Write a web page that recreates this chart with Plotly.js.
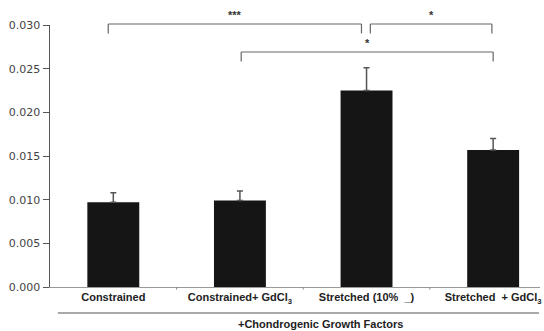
<!DOCTYPE html>
<html>
<head>
<meta charset="utf-8">
<script src="https://cdn.plot.ly/plotly-3.0.1.min.js"></script>
<style>html,body{margin:0;padding:0;background:#fff;}#chart{width:544px;height:331px;}</style>
</head>
<body>
<div id="chart"></div>
<script>
// Data
const categories = ["Constrained", "Constrained+ GdCl<sub>3</sub>", "Stretched (10%  _)", "Stretched  + GdCl<sub>3</sub>"];
const values = [0.0097, 0.0099, 0.0225, 0.0157];
const errorsUp = [0.0011, 0.0011, 0.0026, 0.0013];
const yTickVals = [0, 0.005, 0.010, 0.015, 0.020, 0.025, 0.030];
const yTickText = ["0.000", "0.005", "0.010", "0.015", "0.020", "0.025", "0.030"];
// Significance brackets: [start category index, end category index, label]
const brackets = [
  {from: -0.04, to: 1.96, level: 0, label: "***"},
  {from: 2.03, to: 2.99, level: 0, label: "*"},
  {from: 1.01, to: 3.0, level: 1, label: "*"}
];
const groupLabel = "+Chondrogenic Growth Factors";

const idx = categories.map((_, i) => i);

const trace = {
  type: "bar",
  x: idx,
  y: values,
  width: 0.41,
  marker: {color: "#151515", line: {width: 0}},
  error_y: {
    type: "data", symmetric: false, array: errorsUp, arrayminus: errorsUp.map(() => 0),
    color: "#555", thickness: 1.5, width: 3
  },
  hoverinfo: "skip"
};

const levelY = [1.0038, 0.897];
const levelDrop = 0.036;
const shapes = [];
const annotations = [];
brackets.forEach(b => {
  const yTop = levelY[b.level];
  const line = {color: "#666", width: 1.2};
  shapes.push({type: "line", xref: "x", yref: "paper", x0: b.from, x1: b.to, y0: yTop, y1: yTop, line});
  shapes.push({type: "line", xref: "x", yref: "paper", x0: b.from, x1: b.from, y0: yTop, y1: yTop - levelDrop, line});
  shapes.push({type: "line", xref: "x", yref: "paper", x0: b.to, x1: b.to, y0: yTop, y1: yTop - levelDrop, line});
  annotations.push({xref: "x", yref: "paper", x: (b.from + b.to) / 2, y: yTop + 0.004, yanchor: "bottom",
    text: "<b>" + b.label + "</b>", showarrow: false, font: {family: "Liberation Sans, Arial", size: 11, color: "#333"}});
});
// small separator ticks between categories
[0.5, 1.5, 2.5].forEach(v => {
  shapes.push({type: "line", xref: "x", yref: "paper", x0: v, x1: v, y0: 0, y1: -0.01, line: {color: "#888", width: 1}});
});
// group line and label
shapes.push({type: "line", xref: "paper", yref: "paper", x0: 0.016, x1: 0.998, y0: -0.0992, y1: -0.0992, line: {color: "#555", width: 1.2}});
annotations.push({xref: "paper", yref: "paper", x: 0.553, y: -0.143, yanchor: "middle", xanchor: "center",
  text: "<b>" + groupLabel + "</b>", showarrow: false, font: {family: "Liberation Sans, Arial", size: 11, color: "#222"}});

const layout = {
  width: 544, height: 331,
  margin: {l: 50, r: 4, t: 25, b: 44, pad: 0},
  paper_bgcolor: "#fff", plot_bgcolor: "#fff",
  showlegend: false,
  xaxis: {
    range: [-0.5, 3.37], tickvals: idx, ticktext: categories.map(c => "<b>" + c + "</b>"),
    showline: true, linecolor: "#999", linewidth: 1, ticks: "", showgrid: false, zeroline: false,
    tickfont: {family: "Liberation Sans, Arial", size: 11, color: "#222"}, fixedrange: true
  },
  yaxis: {
    range: [0, 0.030], tickvals: yTickVals, ticktext: yTickText,
    showline: true, linecolor: "#555", linewidth: 1.5, ticks: "outside", ticklen: 6, tickcolor: "#555", tickwidth: 1,
    showgrid: false, zeroline: false,
    tickfont: {family: "DejaVu Sans", size: 11, color: "#444"}, fixedrange: true
  },
  shapes, annotations
};

Plotly.newPlot("chart", [trace], layout, {staticPlot: true, displayModeBar: false});
</script>
</body>
</html>
